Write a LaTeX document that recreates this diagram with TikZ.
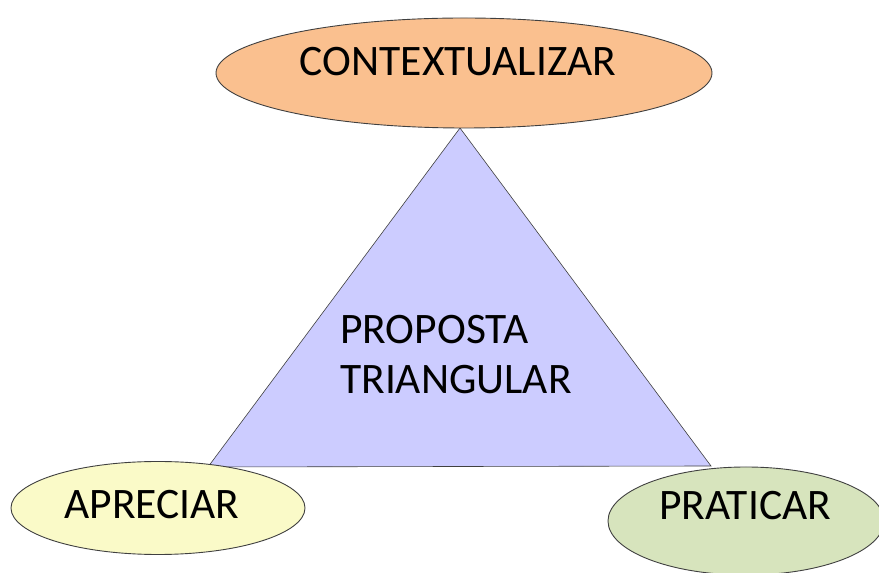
\documentclass[tikz,border=0pt]{standalone}
\usepackage{fontspec}
\setmainfont{Carlito}
\usetikzlibrary{shapes.geometric}
\definecolor{orangefill}{HTML}{FAC08F}
\definecolor{trifill}{HTML}{CCCCFF}
\definecolor{yellowfill}{HTML}{FAFAC8}
\definecolor{greenfill}{HTML}{D7E4BD}
\definecolor{edge}{HTML}{404040}
\tikzset{
  oval/.style={ellipse, draw=edge, line width=0.9pt, inner sep=0pt},
  lbl/.style={inner sep=0pt, font=\fontsize{43.5}{52}\selectfont, text=black}
}
\begin{document}
\begin{tikzpicture}[x=1pt,y=1pt]
\useasboundingbox (0,0) rectangle (879,573);
% triangle
\coordinate (apex) at (460,445);
\coordinate (bl) at (208,106);
\coordinate (br) at (711,107);
\path[fill=trifill, draw=edge, line width=0.6pt] (apex) -- (br) -- (bl) -- cycle;
% ellipses
\node[oval, fill=orangefill, minimum width=496, minimum height=110] (ctx) at (464,500) {};
\node[oval, fill=yellowfill, minimum width=294, minimum height=93] (apr) at (158,65) {};
\node[oval, fill=greenfill, minimum width=276, minimum height=108] (pra) at (746,52) {};
% texts
\node[lbl] (tctx) at (458,511) {CONTEXTUALIZAR};
\node[lbl, anchor=west] (tprop) at (340,243) {PROPOSTA};
\node[lbl, anchor=west] (ttri) at (340,193) {TRIANGULAR};
\node[lbl] (tapr) at (152,68) {APRECIAR};
\node[lbl] (tpra) at (745,67) {PRATICAR};
\end{tikzpicture}
\end{document}
